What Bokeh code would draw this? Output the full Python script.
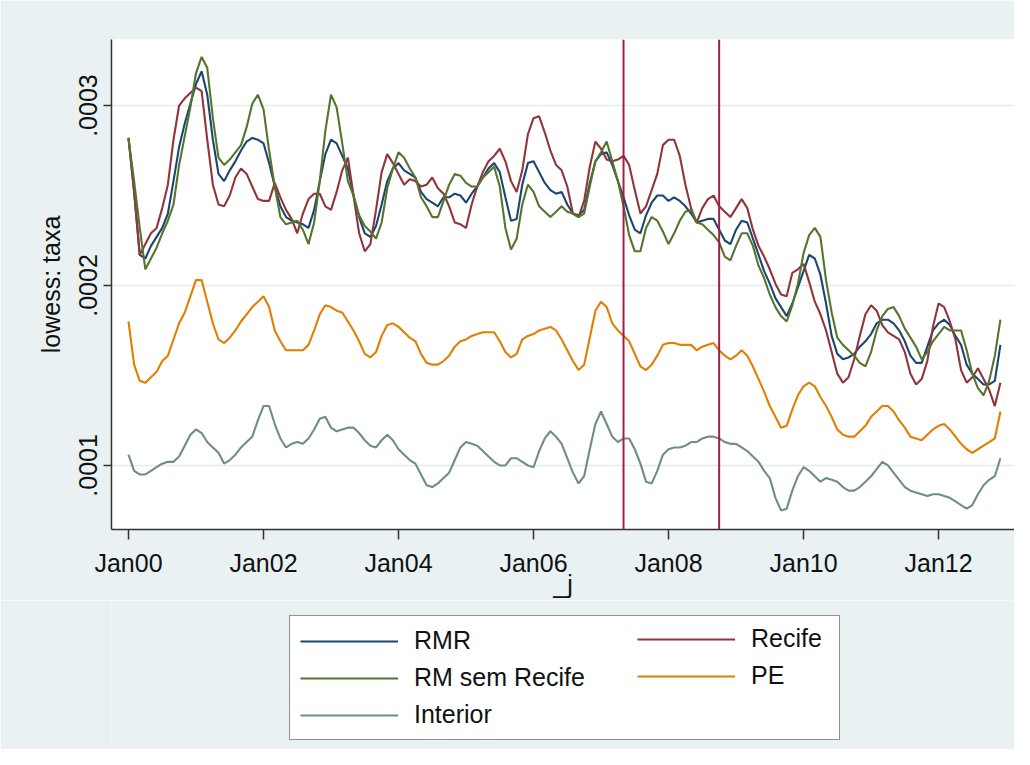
from bokeh.plotting import figure
from bokeh.layouts import column
from bokeh.models import (Range1d, FixedTicker, CustomJSTickFormatter, Legend,
                          LegendItem, Span)
from bokeh.embed import file_html
from bokeh.resources import INLINE

# ---------------- data (monthly lowess of taxa, in units of 1e-4) ----------------
START_YEAR = 2000
UNIT = 1e-4

rmr = [2.82, 2.52, 2.17, 2.15, 2.22, 2.27, 2.32, 2.40, 2.58, 2.77,
       2.90, 3.01, 3.12, 3.19, 3.06, 2.81, 2.62, 2.58, 2.64, 2.69,
       2.75, 2.80, 2.82, 2.81, 2.79, 2.68, 2.55, 2.44, 2.38, 2.36,
       2.35, 2.34, 2.32, 2.42, 2.58, 2.73, 2.81, 2.79,
       2.72, 2.65, 2.50, 2.38, 2.29, 2.27, 2.33, 2.45, 2.58, 2.65,
       2.68, 2.64, 2.62, 2.60, 2.52, 2.48, 2.46, 2.44, 2.49, 2.49,
       2.51, 2.50, 2.46, 2.51, 2.55, 2.60, 2.65, 2.68, 2.63, 2.49,
       2.36, 2.37, 2.56, 2.68, 2.69, 2.63, 2.57, 2.53, 2.51,
       2.52, 2.45, 2.40, 2.39, 2.42, 2.57, 2.69, 2.73, 2.74, 2.67,
       2.58, 2.49, 2.39, 2.31, 2.29, 2.39, 2.46, 2.50, 2.50, 2.47,
       2.49, 2.47, 2.44, 2.40, 2.35, 2.36, 2.37, 2.37, 2.31, 2.25,
       2.23, 2.31, 2.36, 2.35, 2.26, 2.17, 2.08, 2.01, 1.93, 1.88,
       1.83, 1.90, 1.99, 2.08, 2.17, 2.15, 2.06, 1.90, 1.72, 1.62,
       1.59, 1.60, 1.62, 1.66, 1.69, 1.73, 1.79, 1.81, 1.81, 1.79,
       1.75, 1.69, 1.61, 1.57, 1.57, 1.66, 1.75, 1.79, 1.81, 1.78,
       1.72, 1.67, 1.56, 1.51, 1.48, 1.45, 1.45, 1.47, 1.67]

recife = [2.82, 2.52, 2.17, 2.23, 2.29, 2.32, 2.43, 2.56, 2.81, 3.00,
          3.04, 3.07, 3.10, 3.08, 2.81, 2.56, 2.45, 2.44, 2.50, 2.60,
          2.65, 2.62, 2.55, 2.48, 2.47, 2.47, 2.57, 2.49, 2.42, 2.37,
          2.29, 2.40, 2.48, 2.51, 2.51, 2.44, 2.42, 2.52,
          2.64, 2.71, 2.50, 2.29, 2.19, 2.23, 2.42, 2.63, 2.73, 2.68,
          2.62, 2.56, 2.59, 2.58, 2.55, 2.56, 2.60, 2.54, 2.51, 2.44,
          2.35, 2.34, 2.32, 2.45, 2.55, 2.63, 2.69, 2.72, 2.76, 2.69,
          2.58, 2.52, 2.64, 2.84, 2.93, 2.94, 2.85, 2.75, 2.67,
          2.64, 2.55, 2.40, 2.38, 2.47, 2.66, 2.80, 2.76, 2.70, 2.69,
          2.70, 2.72, 2.67, 2.53, 2.40, 2.44, 2.53, 2.62, 2.78, 2.81,
          2.81, 2.72, 2.56, 2.43, 2.35, 2.43, 2.48, 2.50, 2.44, 2.41,
          2.38, 2.43, 2.48, 2.43, 2.31, 2.22, 2.16, 2.09, 2.01, 1.95,
          1.94, 2.07, 2.09, 2.12, 2.02, 1.91, 1.84, 1.75, 1.63, 1.51,
          1.46, 1.49, 1.59, 1.72, 1.84, 1.89, 1.86, 1.78, 1.74, 1.72,
          1.70, 1.63, 1.51, 1.45, 1.48, 1.58, 1.77, 1.90, 1.88, 1.80,
          1.70, 1.53, 1.46, 1.49, 1.54, 1.48, 1.42, 1.33, 1.46]

rm_sem_recife = [2.82, 2.58, 2.32, 2.09, 2.15, 2.21, 2.29, 2.36, 2.45, 2.67,
                 2.83, 2.99, 3.18, 3.27, 3.21, 2.93, 2.71, 2.67, 2.70, 2.74,
                 2.78, 2.88, 3.01, 3.06, 2.98, 2.75, 2.55, 2.38, 2.34, 2.35,
                 2.36, 2.31, 2.23, 2.35, 2.58, 2.86, 3.06, 2.99,
                 2.79, 2.58, 2.50, 2.39, 2.33, 2.30, 2.26, 2.35, 2.54, 2.65,
                 2.74, 2.71, 2.65, 2.60, 2.49, 2.44, 2.38, 2.38, 2.47, 2.56,
                 2.62, 2.61, 2.57, 2.55, 2.55, 2.60, 2.63, 2.66, 2.55, 2.32,
                 2.20, 2.26, 2.45, 2.56, 2.52, 2.44, 2.41, 2.38, 2.41,
                 2.44, 2.41, 2.40, 2.38, 2.40, 2.55, 2.69, 2.74, 2.80, 2.69,
                 2.58, 2.44, 2.28, 2.19, 2.19, 2.32, 2.38, 2.36, 2.30, 2.23,
                 2.29, 2.36, 2.41, 2.42, 2.35, 2.34, 2.31, 2.28, 2.24, 2.16,
                 2.14, 2.22, 2.29, 2.29, 2.22, 2.11, 2.04, 1.95, 1.88, 1.83,
                 1.80, 1.89, 2.01, 2.18, 2.28, 2.32, 2.27, 2.03, 1.85, 1.71,
                 1.67, 1.64, 1.61, 1.57, 1.55, 1.63, 1.75, 1.83, 1.87, 1.88,
                 1.83, 1.76, 1.71, 1.66, 1.59, 1.63, 1.69, 1.73, 1.77, 1.75,
                 1.75, 1.75, 1.64, 1.51, 1.43, 1.39, 1.47, 1.61, 1.81]

pe = [1.80, 1.56, 1.47, 1.46, 1.49, 1.52, 1.58, 1.61, 1.70, 1.79,
      1.85, 1.94, 2.03, 2.03, 1.91, 1.79, 1.70, 1.68, 1.71, 1.75,
      1.80, 1.84, 1.88, 1.91, 1.94, 1.88, 1.75, 1.69, 1.64, 1.64,
      1.64, 1.64, 1.67, 1.75, 1.84, 1.89, 1.88, 1.86,
      1.85, 1.80, 1.75, 1.69, 1.62, 1.60, 1.63, 1.72, 1.78, 1.79,
      1.77, 1.74, 1.71, 1.69, 1.62, 1.57, 1.56, 1.56, 1.58, 1.61,
      1.66, 1.69, 1.70, 1.72, 1.73, 1.74, 1.74, 1.74, 1.69, 1.63,
      1.60, 1.62, 1.70, 1.72, 1.73, 1.75, 1.76, 1.77, 1.75,
      1.70, 1.64, 1.58, 1.53, 1.56, 1.71, 1.86, 1.91, 1.88, 1.79,
      1.75, 1.72, 1.69, 1.62, 1.55, 1.53, 1.56, 1.61, 1.67, 1.68,
      1.68, 1.67, 1.67, 1.67, 1.64, 1.66, 1.67, 1.68, 1.64, 1.61,
      1.59, 1.61, 1.64, 1.61, 1.55, 1.48, 1.41, 1.33, 1.27, 1.21,
      1.22, 1.31, 1.39, 1.44, 1.46, 1.44, 1.38, 1.33, 1.27, 1.20,
      1.17, 1.16, 1.16, 1.19, 1.22, 1.27, 1.30, 1.33, 1.33, 1.30,
      1.25, 1.21, 1.16, 1.15, 1.14, 1.17, 1.20, 1.22, 1.23, 1.20,
      1.16, 1.12, 1.09, 1.07, 1.09, 1.11, 1.13, 1.15, 1.30]

interior = [1.06, 0.97, 0.95, 0.95, 0.97, 0.99, 1.01, 1.02, 1.02, 1.05,
            1.11, 1.17, 1.20, 1.18, 1.13, 1.10, 1.07, 1.01, 1.03, 1.06,
            1.10, 1.13, 1.16, 1.25, 1.33, 1.33, 1.23, 1.15, 1.10, 1.12,
            1.13, 1.12, 1.15, 1.20, 1.26, 1.27, 1.21, 1.19,
            1.20, 1.21, 1.21, 1.18, 1.14, 1.11, 1.10, 1.14, 1.17, 1.14,
            1.09, 1.06, 1.03, 1.01, 0.95, 0.89, 0.88, 0.90, 0.93, 0.96,
            1.03, 1.10, 1.13, 1.12, 1.11, 1.08, 1.05, 1.02, 1.00, 1.00,
            1.04, 1.04, 1.02, 1.00, 0.99, 1.08, 1.15, 1.19, 1.16,
            1.12, 1.04, 0.96, 0.90, 0.94, 1.09, 1.23, 1.30, 1.23, 1.16,
            1.13, 1.15, 1.15, 1.09, 1.01, 0.91, 0.90, 0.97, 1.06, 1.09,
            1.10, 1.10, 1.11, 1.13, 1.13, 1.15, 1.16, 1.16, 1.15, 1.13,
            1.12, 1.12, 1.10, 1.08, 1.05, 1.02, 0.97, 0.93, 0.82, 0.75,
            0.76, 0.86, 0.94, 0.99, 0.97, 0.94, 0.91, 0.93, 0.92, 0.91,
            0.88, 0.86, 0.86, 0.88, 0.91, 0.94, 0.98, 1.02, 1.00, 0.96,
            0.92, 0.88, 0.86, 0.85, 0.84, 0.83, 0.84, 0.84, 0.83, 0.82,
            0.80, 0.78, 0.76, 0.78, 0.84, 0.89, 0.92, 0.94, 1.04]

series_names = ["RMR", "Recife", "RM sem Recife", "PE", "Interior"]
legend_col1 = ["RMR", "RM sem Recife", "Interior"]
legend_col2 = ["Recife", "PE"]
x_tick_labels = ["Jan00", "Jan02", "Jan04", "Jan06", "Jan08", "Jan10", "Jan12"]
x_tick_dates = [(2000, 1), (2002, 1), (2004, 1), (2006, 1), (2008, 1), (2010, 1), (2012, 1)]
event_dates = [(2007, 5), (2008, 10)]
y_ticks = [0.0001, 0.0002, 0.0003]


def month_index(year, month):
    return (year - START_YEAR) * 12 + (month - 1)


# ---------------- styling ----------------
FONT = "Liberation Sans"
BG = "#E9F1F3"
colors = {"RMR": "#1A476F", "Recife": "#90353B", "RM sem Recife": "#55752F",
          "PE": "#E37E00", "Interior": "#6E8E84"}
EVENT_COLOR = "#A01F46"
W = 1014
LEFT = 111

p = figure(width=W, height=600, output_backend="svg", toolbar_location=None,
           x_range=Range1d(-3.02, 157.5), y_range=Range1d(0.0000644, 0.0003367),
           min_border_left=LEFT, min_border_right=0, min_border_top=39,
           min_border_bottom=71)
p.background_fill_color = "white"
p.border_fill_color = BG
p.outline_line_color = None

data = {"RMR": rmr, "Recife": recife, "RM sem Recife": rm_sem_recife,
        "PE": pe, "Interior": interior}
for name in series_names:
    vals = data[name]
    xs = list(range(len(vals)))
    ys = [v * UNIT for v in vals]
    p.line(xs, ys, line_color=colors[name], line_width=2.1)

for (yy, mm) in event_dates:
    p.add_layout(Span(location=month_index(yy, mm), dimension="height",
                      line_color=EVENT_COLOR, line_width=2))

# axes
xt = [month_index(y, m) for (y, m) in x_tick_dates]
p.xaxis.ticker = FixedTicker(ticks=xt)
p.xaxis.major_label_overrides = {t: lbl for t, lbl in zip(xt, x_tick_labels)}
p.xaxis.minor_tick_line_color = None
p.xaxis.axis_label = "_j"
p.yaxis.axis_label = "lowess: taxa"
p.yaxis.ticker = FixedTicker(ticks=y_ticks)
p.yaxis.formatter = CustomJSTickFormatter(code="return tick.toFixed(4).replace(/^0/, '');")
p.yaxis.major_label_orientation = "vertical"
p.yaxis.minor_tick_line_color = None

for ax in (p.xaxis[0], p.yaxis[0]):
    ax.axis_line_color = "#333333"
    ax.axis_line_width = 1.5
    ax.major_tick_line_color = "#333333"
    ax.major_tick_line_width = 1.5
    ax.major_tick_in = 0
    ax.major_label_text_font = FONT
    ax.major_label_text_font_size = "25px"
    ax.major_label_text_color = "#111111"
    ax.axis_label_text_font = FONT
    ax.axis_label_text_font_size = "25px"
    ax.axis_label_text_font_style = "normal"
    ax.axis_label_text_color = "#111111"

p.xaxis.major_tick_out = 10
p.xaxis.major_label_standoff = 9
p.xaxis.axis_label_standoff = -10
p.yaxis.major_tick_out = 8
p.yaxis.major_label_standoff = 6
p.yaxis.axis_label_standoff = 12

p.xgrid.visible = False
p.ygrid.ticker = FixedTicker(ticks=y_ticks)
p.ygrid.grid_line_color = "#E3EBEE"
p.ygrid.grid_line_width = 1.5

# ---------------- legend strip under the plot ----------------
# key lines carry the series but sit outside this strip's visible y-range
LH = 149
q = figure(width=W, height=LH, output_backend="svg", toolbar_location=None,
           x_range=Range1d(0, 1), y_range=Range1d(10, 11),
           x_axis_type=None, y_axis_type=None,
           min_border_left=LEFT, min_border_right=0, min_border_top=0, min_border_bottom=0)
q.background_fill_color = BG
q.border_fill_color = BG
q.outline_line_color = None
q.xgrid.visible = False
q.ygrid.visible = False
keys = {}
for n in series_names:
    vals = data[n]
    keys[n] = q.line(list(range(len(vals))), [v * UNIT for v in vals],
                     line_color=colors[n], line_width=2)


def make_legend(names, loc, label_width, framed):
    lg = Legend(items=[LegendItem(label=n, renderers=[keys[n]]) for n in names],
                location=loc, orientation="vertical")
    lg.label_text_font = FONT
    lg.label_text_font_size = "25px"
    lg.label_text_color = "#111111"
    lg.glyph_width = 98
    lg.glyph_height = 28
    lg.label_standoff = 16
    lg.label_width = label_width
    lg.spacing = 8
    lg.padding = 10
    lg.margin = 0
    if framed:
        lg.border_line_color = "#222222"
        lg.border_line_width = 1.2
        lg.background_fill_color = "white"
        lg.background_fill_alpha = 1.0
    else:
        lg.border_line_color = None
        lg.background_fill_alpha = 0.0
    return lg


q.add_layout(make_legend(legend_col1, (289 - LEFT, 9), 415, True))
q.add_layout(make_legend(legend_col2, (637 - LEFT, 59), 20, False))

layout = column(p, q, spacing=0)
open("out.html", "w").write(file_html(layout, INLINE))
